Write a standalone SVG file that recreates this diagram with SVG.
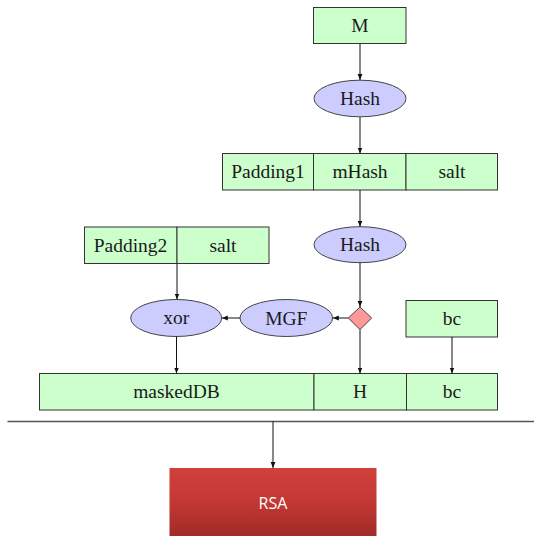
<svg xmlns="http://www.w3.org/2000/svg" width="534" height="536" viewBox="0 0 534 536">
  <defs>
    <marker id="arrow" viewBox="0 0 10 10" refX="10" refY="5" markerWidth="6" markerHeight="6" markerUnits="userSpaceOnUse" orient="auto">
      <path d="M0,1 L10,5 L0,9 Z" fill="#111"/>
    </marker>
    <linearGradient id="rsaFill" x1="0" y1="0" x2="0" y2="1">
      <stop offset="0" stop-color="#d2403b"/>
      <stop offset="0.5" stop-color="#c23833"/>
      <stop offset="1" stop-color="#9e2a27"/>
    </linearGradient>
  </defs>
  <style>
    .box { fill: #ccffcc; stroke: #333; stroke-width: 1; }
    .oval { fill: #ccccff; stroke: #444; stroke-width: 1; }
    .diamond { fill: #ff9999; stroke: #444; stroke-width: 1; }
    .lbl { font-family: "Liberation Serif", "Times New Roman", serif; font-size: 19.5px; fill: #1a1a1a; text-anchor: middle; }
    .edge { stroke: #111; stroke-width: 1; fill: none; marker-end: url(#arrow); }
    .rule { stroke: #555; stroke-width: 1.3; fill: none; }
  </style>

  <!-- message and first hash -->
  <g id="M">
    <rect class="box" x="313.5" y="7.5" width="92.5" height="36"/>
    <text class="lbl" x="360" y="32">M</text>
  </g>
  <g id="Hash1">
    <ellipse class="oval" cx="360" cy="98.5" rx="46" ry="18.3"/>
    <text class="lbl" x="360" y="105">Hash</text>
  </g>

  <!-- M' = Padding1 || mHash || salt -->
  <g id="MPrime">
    <rect class="box" x="222.5" y="153.5" width="91" height="36.5"/>
    <rect class="box" x="313.5" y="153.5" width="92.5" height="36.5"/>
    <rect class="box" x="406" y="153.5" width="91.5" height="36.5"/>
    <text class="lbl" x="268" y="178">Padding1</text>
    <text class="lbl" x="360" y="178">mHash</text>
    <text class="lbl" x="452" y="178">salt</text>
  </g>

  <g id="Hash2">
    <ellipse class="oval" cx="360" cy="244.7" rx="46" ry="18"/>
    <text class="lbl" x="360" y="251">Hash</text>
  </g>

  <!-- DB = Padding2 || salt -->
  <g id="DB">
    <rect class="box" x="84.5" y="227" width="92.5" height="36.5"/>
    <rect class="box" x="177" y="227" width="92" height="36.5"/>
    <text class="lbl" x="130.5" y="251.5">Padding2</text>
    <text class="lbl" x="223" y="251.5">salt</text>
  </g>

  <g id="xor">
    <ellipse class="oval" cx="176.2" cy="318" rx="45.5" ry="18.5"/>
    <text class="lbl" x="176.2" y="323.5">xor</text>
  </g>
  <g id="MGF">
    <ellipse class="oval" cx="286.3" cy="318" rx="46.3" ry="18.5"/>
    <text class="lbl" x="286.3" y="324.5">MGF</text>
  </g>
  <g id="split">
    <path class="diamond" d="M360,307 L371.7,318 L360,329.5 L348.3,318 Z"/>
  </g>
  <g id="bcIn">
    <rect class="box" x="406" y="300.5" width="91.5" height="36.5"/>
    <text class="lbl" x="452" y="324.5">bc</text>
  </g>

  <!-- EM = maskedDB || H || bc -->
  <g id="EM">
    <rect class="box" x="39.5" y="373.5" width="274.5" height="36.5"/>
    <rect class="box" x="314" y="373.5" width="92.5" height="36.5"/>
    <rect class="box" x="406.5" y="373.5" width="91" height="36.5"/>
    <text class="lbl" x="176.5" y="398">maskedDB</text>
    <text class="lbl" x="360" y="398">H</text>
    <text class="lbl" x="452" y="398">bc</text>
  </g>

  <g id="RSA">
    <rect x="169.5" y="468" width="207" height="70" fill="url(#rsaFill)"/>
    <text x="273" y="509" font-family="'Open Sans', 'Noto Sans', sans-serif" font-size="16" fill="#ffffff" text-anchor="middle">RSA</text>
  </g>

  <g id="connectors">
    <line class="edge" x1="360" y1="43.5" x2="360" y2="80"/>
    <line class="edge" x1="360" y1="117" x2="360" y2="153.5"/>
    <line class="edge" x1="360" y1="190" x2="360" y2="226.7"/>
    <line class="edge" x1="360" y1="262.7" x2="360" y2="307"/>
    <line class="edge" x1="360" y1="329.5" x2="360" y2="373.5"/>
    <line class="edge" x1="348.3" y1="318" x2="332.8" y2="318"/>
    <line class="edge" x1="240" y1="318" x2="221.8" y2="318"/>
    <line class="edge" x1="177" y1="263.5" x2="177" y2="299.5"/>
    <line class="edge" x1="176.5" y1="336.5" x2="176.5" y2="373.5"/>
    <line class="edge" x1="452" y1="337" x2="452" y2="373.5"/>
    <line class="rule" x1="7.5" y1="421.5" x2="534" y2="421.5"/>
    <line class="edge" x1="273" y1="421.5" x2="273" y2="468"/>
  </g>
</svg>
